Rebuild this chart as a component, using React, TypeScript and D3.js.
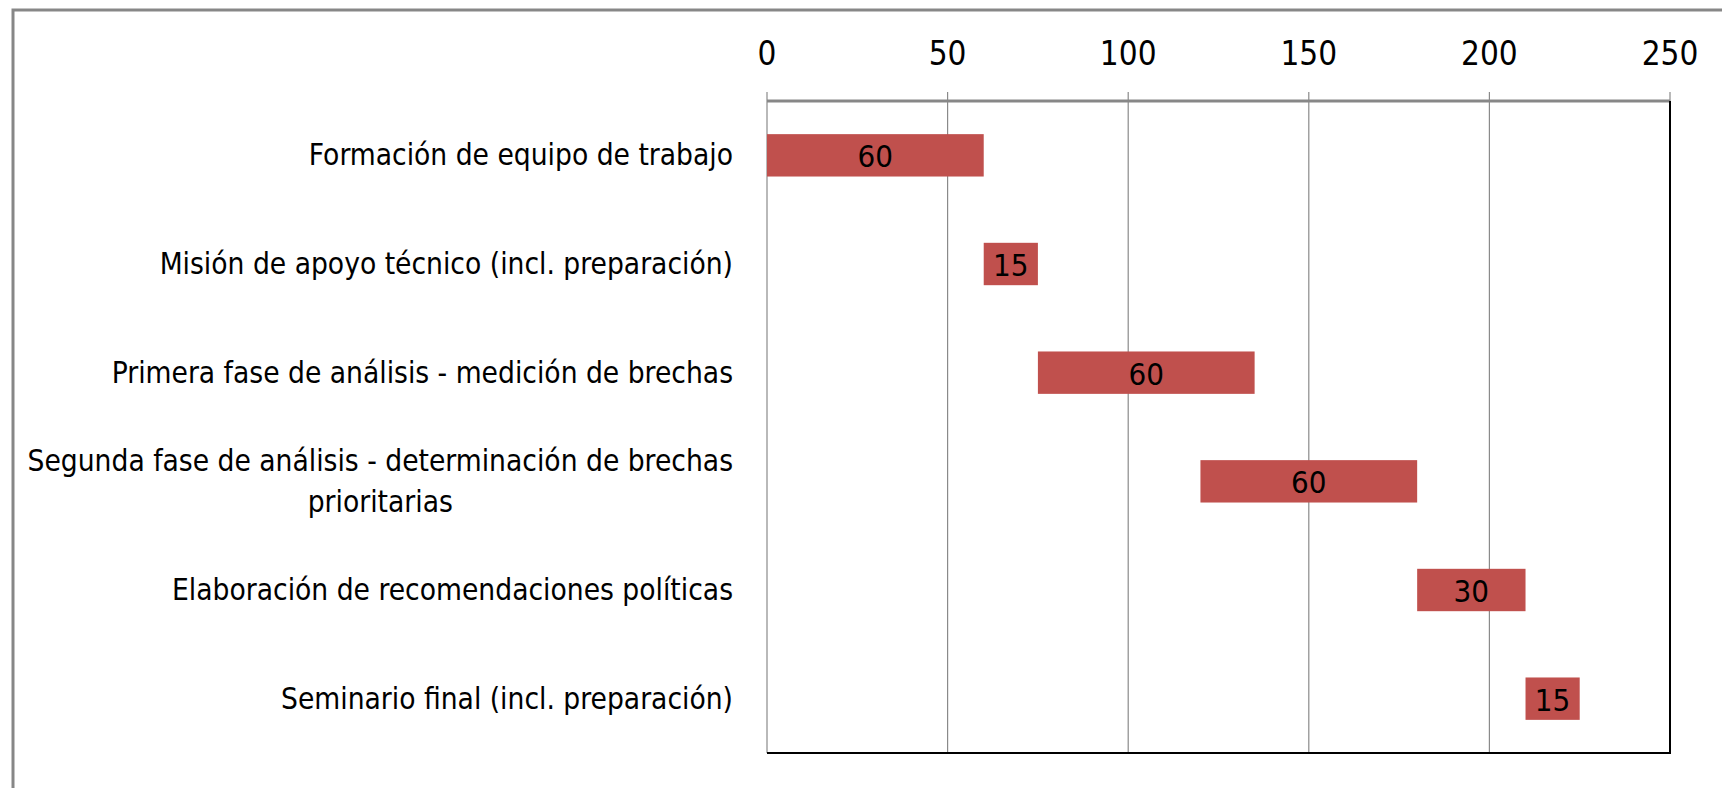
import * as d3 from "d3";
import { useEffect, useRef } from "react";

const tasks = [
  "Formación de equipo de trabajo",
  "Misión de apoyo técnico (incl. preparación)",
  "Primera fase de análisis - medición de brechas",
  "Segunda fase de análisis - determinación de brechas|prioritarias",
  "Elaboración de recomendaciones políticas",
  "Seminario final (incl. preparación)",
];
const starts = [0, 60, 75, 120, 180, 210];
const durations = [60, 15, 60, 60, 30, 15];
const xTicks = [0, 50, 100, 150, 200, 250];

const FONT = "'Liberation Sans Narrow', 'DejaVu Sans Condensed', Arial, sans-serif";

const App = () => {
  const svgRef = useRef<SVGSVGElement | null>(null);

  useEffect(() => {
    const W = 1722;
    const H = 788;
    const plot = { left: 767, right: 1670, top: 101, bottom: 753 };

    const svg = d3.select(svgRef.current);
    svg.selectAll("*").remove();
    svg.attr("width", W).attr("height", H);

    // outer chart border (right/bottom fall off the picture)
    svg
      .append("rect")
      .attr("x", 13)
      .attr("y", 10)
      .attr("width", W + 20)
      .attr("height", H + 20)
      .style("fill", "white")
      .style("stroke", "#878787")
      .style("stroke-width", 3);

    const x = d3.scaleLinear().domain([0, 250]).range([plot.left, plot.right]);
    const y = d3
      .scaleBand<string>()
      .domain(tasks)
      .range([plot.top, plot.bottom])
      .paddingInner(0.61)
      .paddingOuter(0.305);

    // gridlines + tick marks above the top axis
    svg
      .append("g")
      .selectAll("line")
      .data(xTicks)
      .enter()
      .append("line")
      .attr("x1", (d) => x(d))
      .attr("x2", (d) => x(d))
      .attr("y1", plot.top - 9)
      .attr("y2", plot.bottom)
      .style("stroke", "#8a8a8a")
      .style("stroke-width", 1.2);

    // top axis line
    svg
      .append("line")
      .attr("x1", plot.left)
      .attr("x2", plot.right)
      .attr("y1", plot.top)
      .attr("y2", plot.top)
      .style("stroke", "#878787")
      .style("stroke-width", 3);

    // plot area right / bottom edge
    svg
      .append("path")
      .attr("d", `M${plot.left},${plot.bottom}H${plot.right}V${plot.top}`)
      .style("fill", "none")
      .style("stroke", "black")
      .style("stroke-width", 2);

    svg
      .append("g")
      .selectAll("text")
      .data(xTicks)
      .enter()
      .append("text")
      .attr("x", (d) => x(d))
      .attr("y", 53)
      .attr("text-anchor", "middle")
      .attr("dominant-baseline", "central")
      .style("font-family", FONT)
      .style("font-size", "33px")
      .text((d) => d);

    // bars (invisible start series + visible duration series)
    const rows = tasks.map((t, i) => ({ task: t, start: starts[i], dur: durations[i] }));

    svg
      .append("g")
      .selectAll("rect")
      .data(rows)
      .enter()
      .append("rect")
      .attr("x", (d) => x(d.start))
      .attr("y", (d) => y(d.task)!)
      .attr("width", (d) => x(d.start + d.dur) - x(d.start))
      .attr("height", y.bandwidth())
      .style("fill", "#c0504d");

    svg
      .append("g")
      .selectAll("text")
      .data(rows)
      .enter()
      .append("text")
      .attr("x", (d) => x(d.start + d.dur / 2))
      .attr("y", (d) => y(d.task)! + y.bandwidth() / 2 + 1)
      .attr("text-anchor", "middle")
      .attr("dominant-baseline", "central")
      .style("font-family", FONT)
      .style("font-size", "31px")
      .text((d) => d.dur);

    // category labels, wrapped lines centred on each other, block right-aligned
    const labelRight = 733;
    const lineGap = 41;
    rows.forEach((d) => {
      const lines = d.task.split("|");
      const cy = y(d.task)! + y.bandwidth() / 2;
      const g = svg.append("g");
      const texts = lines.map((ln, j) =>
        g
          .append("text")
          .attr("y", cy + (j - (lines.length - 1) / 2) * lineGap)
          .attr("text-anchor", "middle")
          .attr("dominant-baseline", "central")
          .style("font-family", FONT)
          .style("font-size", "29.6px")
          .text(ln)
      );
      const widths = texts.map((t) => (t.node() as SVGTextElement).getComputedTextLength());
      const maxW = d3.max(widths)!;
      texts.forEach((t) => t.attr("x", labelRight - maxW / 2));
    });
  }, []);

  return (
    <div style={{ position: "absolute", left: 0, top: 0 }}>
      <svg ref={svgRef} style={{ display: "block" }} />
    </div>
  );
};

export default App;
